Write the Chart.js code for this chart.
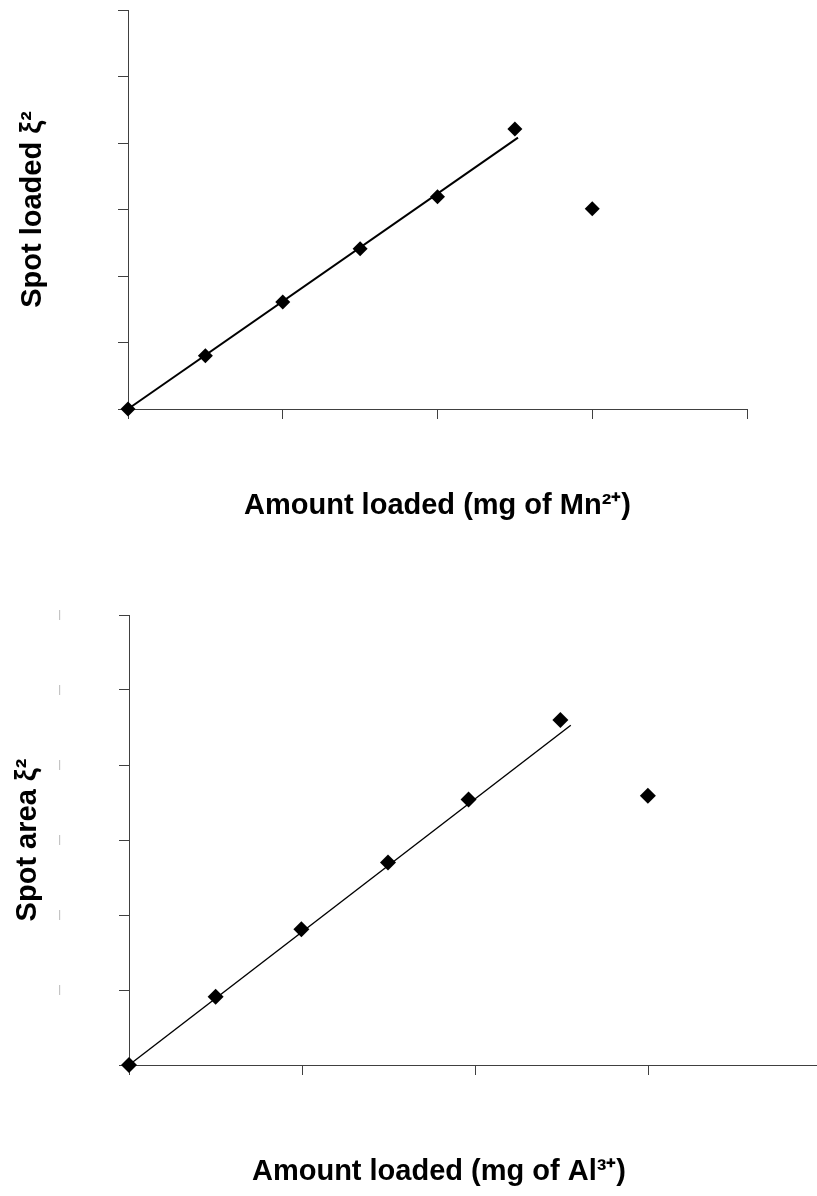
<!DOCTYPE html>
<html>
<head>
<meta charset="utf-8">
<script src="https://cdn.jsdelivr.net/npm/chart.js@4/dist/chart.umd.min.js"></script>
<style>
  html, body { margin: 0; padding: 0; background: #fff; overflow: hidden; width: 817px; height: 1196px; }
  #c1 { position: absolute; left: 0; top: 0; }
  #c2 { position: absolute; left: 0; top: 600px; }
</style>
</head>
<body>
<canvas id="c1" width="817" height="530"></canvas>
<canvas id="c2" width="830" height="596"></canvas>
<script>
// ---- data ----
const mnAmount = [0, 1, 2, 3, 4, 5, 6];
const mnSpot   = [0, 0.80, 1.61, 2.41, 3.19, 4.21, 3.01];
const mnFitX   = [0, 5.04];
const mnFitY   = [0, 4.08];

const alAmount = [0, 1, 1.99, 2.99, 3.92, 4.98, 5.99];
const alSpot   = [0, 0.91, 1.81, 2.70, 3.54, 4.60, 3.59];
const alFitX   = [0, 5.1];
const alFitY   = [0, 4.53];

const xRange = [0, 8];
const xStep  = 2;
const yRange = [0, 6];
const yStep  = 1;

const mnXTitle = 'Amount loaded (mg of Mn\u00B2\u207A)';
const mnYTitle = 'Spot loaded \u03BE\u00B2';
const alXTitle = 'Amount loaded (mg of Al\u00B3\u207A)';
const alYTitle = 'Spot area \u03BE\u00B2';

// ---- helpers ----
const pts = (xs, ys) => xs.map((x, i) => ({ x: x, y: ys[i] }));
const FONT = '"Liberation Sans", Arial, Helvetica, sans-serif';
const AXIS_COLOR = '#404040';

function makeChart(id, cfg) {
  const ctx = document.getElementById(id);
  return new Chart(ctx, {
    type: 'scatter',
    data: {
      datasets: [
        {
          label: 'fit',
          data: pts(cfg.fitX, cfg.fitY),
          showLine: true,
          borderColor: '#000',
          borderWidth: cfg.lineWidth,
          pointRadius: 0,
          fill: false,
          clip: false,
          order: 2
        },
        {
          label: 'data',
          data: pts(cfg.xs, cfg.ys),
          showLine: false,
          pointStyle: 'rectRot',
          pointRadius: cfg.markerRadius,
          pointBackgroundColor: '#000',
          pointBorderColor: '#000',
          pointBorderWidth: 0,
          clip: false,
          order: 1
        }
      ]
    },
    options: {
      responsive: false,
      animation: false,
      devicePixelRatio: 1,
      layout: { padding: cfg.padding },
      plugins: { legend: { display: false }, tooltip: { enabled: false } },
      scales: {
        x: {
          type: 'linear',
          min: xRange[0], max: xRange[1],
          ticks: { stepSize: xStep, display: false },
          grid: { drawOnChartArea: false, drawTicks: true, tickLength: 10, color: AXIS_COLOR, lineWidth: 1 },
          border: { display: true, color: AXIS_COLOR, width: 1 },
          title: {
            display: true, text: cfg.xTitle, color: '#000',
            font: { family: FONT, size: 29, weight: 'bold' },
            padding: { top: 0, bottom: cfg.xTitlePad }
          },
          afterFit: (s) => { s.height = cfg.xAxisHeight; }
        },
        y: {
          type: 'linear',
          min: yRange[0], max: yRange[1],
          ticks: cfg.yTickMarks ? {
            stepSize: yStep, display: true, padding: 58,
            color: '#b4b4b4',
            font: { family: FONT, size: 11 },
            callback: (v) => (v === 0 ? '' : '|')
          } : { stepSize: yStep, display: false },
          grid: { drawOnChartArea: false, drawTicks: true, tickLength: 10, color: AXIS_COLOR, lineWidth: 1 },
          border: { display: true, color: AXIS_COLOR, width: 1 },
          title: {
            display: true, text: cfg.yTitle, color: '#000',
            font: { family: FONT, size: 29, weight: 'bold' },
            padding: { top: cfg.yTitlePad, bottom: 0 }
          },
          afterFit: (s) => {
            s.width = cfg.yAxisWidth;
            s.paddingTop = 0;
            s.paddingBottom = 0;
          }
        }
      }
    }
  });
}

const chart1 = makeChart('c1', {
  xs: mnAmount, ys: mnSpot, fitX: mnFitX, fitY: mnFitY,
  lineWidth: 2, markerRadius: 7.5,
  xTitle: mnXTitle, yTitle: mnYTitle,
  padding: { top: 10, right: 70, bottom: 0, left: 0 },
  xAxisHeight: 121, yAxisWidth: 128,
  xTitlePad: 7, yTitlePad: 16,
  yTickMarks: false
});

const chart2 = makeChart('c2', {
  xs: alAmount, ys: alSpot, fitX: alFitX, fitY: alFitY,
  lineWidth: 1.4, markerRadius: 8,
  xTitle: alXTitle, yTitle: alYTitle,
  padding: { top: 15, right: 6, bottom: 0, left: 0 },
  xAxisHeight: 131, yAxisWidth: 129,
  xTitlePad: 7, yTitlePad: 11,
  yTickMarks: true
});

// The lower chart's x title sits left of the plot centre in the reference.
(function shiftTitle(chart, leftEdge) {
  const sx = chart.scales.x;
  const orig = sx.drawTitle;
  sx.drawTitle = function () {
    const l = this.left;
    this.left = leftEdge;
    orig.call(this);
    this.left = l;
  };
  chart.draw();
})(chart2, 56);
</script>
</body>
</html>
